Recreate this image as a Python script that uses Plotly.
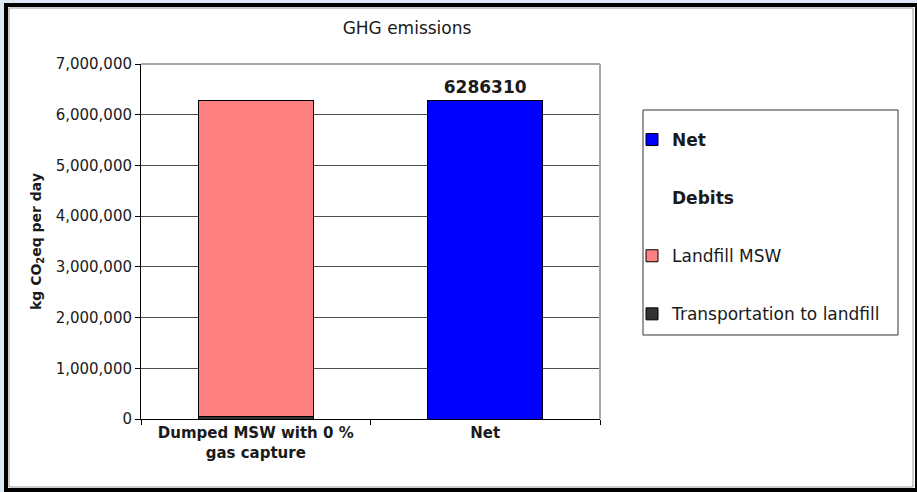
import plotly.graph_objects as go

# Chart data
categories = ["Dumped MSW with 0 %<br>gas capture", "Net"]
transportation = [55000]
landfill_msw = [6231310]
net = [6286310]
y_ticks = [0, 1000000, 2000000, 3000000, 4000000, 5000000, 6000000, 7000000]

W, H = 917, 492
ML, MR, MT, MB = 141, 317, 64, 73
PW, PH = W - ML - MR, H - MT - MB

FONT = "DejaVu Sans"
INK = "#1a1a1a"


def px_x(p):
    return (p - ML) / PW


def px_y(p):
    return (H - MB - p) / PH


fig = go.Figure()

fig.add_trace(go.Bar(
    x=categories[:1], y=transportation, name="Transportation to landfill",
    marker=dict(color="#333333", line=dict(color="black", width=1)),
    legendgroup="t", legendrank=4,
))
fig.add_trace(go.Bar(
    x=categories[:1], y=landfill_msw, name="Landfill MSW",
    marker=dict(color="#ff8080", line=dict(color="black", width=1)),
    legendgroup="l", legendrank=3,
))
fig.add_trace(go.Bar(
    x=categories[1:], y=net, name="<b>Net</b>",
    marker=dict(color="#0000ff", line=dict(color="black", width=1)),
    texttemplate="%{y:d}", textposition="outside", cliponaxis=False,
    textfont=dict(family=FONT, size=17, color=INK, weight="bold"),
    legendgroup="n", legendrank=1,
))
# header entry in the legend (no visible bar)
fig.add_trace(go.Bar(
    x=categories[:1], y=[0], name="<b>Debits</b>",
    marker=dict(color="rgba(0,0,0,0)", line=dict(width=0)),
    legendgroup="d", legendrank=2, hoverinfo="skip",
))

shapes = [
    # outer chart frame
    dict(type="rect", xref="paper", yref="paper", layer="below",
         x0=px_x(6), x1=px_x(917), y0=px_y(490), y1=px_y(5),
         fillcolor="white", line=dict(color="black", width=4)),
    dict(type="rect", xref="paper", yref="paper", layer="below",
         x0=px_x(9), x1=px_x(913), y0=px_y(487), y1=px_y(8),
         line=dict(color="#9a9a9a", width=1)),
    # plot area border (top and right)
    dict(type="line", xref="paper", yref="paper", x0=0, x1=1, y0=1, y1=1,
         line=dict(color="#a6a6a6", width=2)),
    dict(type="line", xref="paper", yref="paper", x0=1, x1=1, y0=0, y1=1,
         line=dict(color="#a6a6a6", width=2)),
    # legend box
    dict(type="rect", xref="paper", yref="paper",
         x0=px_x(643), x1=px_x(898), y0=px_y(335), y1=px_y(110),
         line=dict(color="#333333", width=1)),
]

fig.update_layout(
    width=W, height=H,
    margin=dict(l=ML, r=MR, t=MT, b=MB, pad=0),
    paper_bgcolor="#dde9f6",
    plot_bgcolor="white",
    barmode="stack",
    bargap=0.5,
    font=dict(family=FONT, size=15, color=INK),
    title=dict(text="GHG emissions", x=407 / W, xref="container", xanchor="center",
               y=1 - 28 / H, yref="container", yanchor="middle",
               font=dict(family=FONT, size=17, color=INK)),
    showlegend=True,
    legend=dict(
        x=px_x(632), xanchor="left", y=px_y(122), yanchor="top",
        bgcolor="rgba(0,0,0,0)", borderwidth=0,
        font=dict(family=FONT, size=17, color=INK),
        tracegroupgap=33, traceorder="grouped",
    ),
    shapes=shapes,
)

fig.update_xaxes(
    type="category", categoryorder="array", categoryarray=categories,
    showline=True, linecolor="black", linewidth=1,
    ticks="outside", tickson="boundaries", ticklen=5, tickcolor="black",
    tickfont=dict(family=FONT, size=15, color=INK, weight="bold"),
    showgrid=False,
)
fig.update_yaxes(
    range=[0, 7000000], tickvals=y_ticks, tickformat=",d",
    showline=True, linecolor="black", linewidth=1,
    ticks="outside", ticklen=5, tickcolor="black",
    showgrid=True, gridcolor="#4d4d4d", gridwidth=1, zeroline=False,
    tickfont=dict(family=FONT, size=15, color=INK),
    title=dict(text="kg CO<sub>2</sub>eq per day", standoff=10,
               font=dict(family=FONT, size=14, color=INK, weight="bold")),
)

fig.write_html("out.html")
